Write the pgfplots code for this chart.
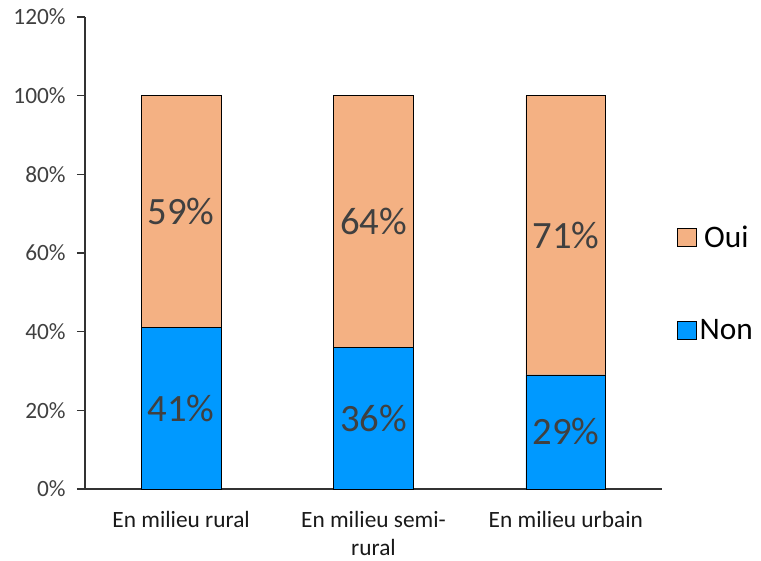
\documentclass[border=0pt]{standalone}
\usepackage{pgfplots}
\pgfplotsset{compat=1.18}
\usepackage{pgfplotstable}
\usepackage{fontspec}
\setmainfont{Carlito}

\definecolor{ouiC}{HTML}{F4B183}
\definecolor{nonC}{HTML}{0099FF}
\definecolor{txtC}{HTML}{404040}

\pgfplotstableread{
x non oui
0 41 59
1 36 64
2 29 71
}\milieu

\begin{document}
\begin{tikzpicture}
\begin{axis}[
  name=ax,
  scale only axis,
  width=432.75pt, height=354pt,
  ybar stacked,
  bar width=0.415,
  xmin=-0.5, xmax=2.5,
  ymin=0, ymax=120,
  axis lines*=left,
  axis line style={black!80, line width=0.8pt},
  tick align=outside,
  ytick={0,20,...,120},
  yticklabels={0\%,20\%,40\%,60\%,80\%,100\%,120\%},
  major tick length=6pt,
  minor tick length=8pt,
  every tick/.style={black!80, line width=0.8pt},
  xtick={0,1,2},
  xticklabels={En milieu rural, En milieu semi-\\rural, En milieu urbain},
  minor xtick={-0.5,0.5,1.5,2.5},
  x tick style={draw=none},
  x tick label style={align=center, font=\fontsize{17.5}{21.5}\selectfont, text=black!90, yshift=-7pt},
  y tick label style={font=\fontsize{17.5}{21}\selectfont, text=txtC, xshift=-5pt},
  /pgf/number format/assume math mode=true,
  nodes near coords={\pgfmathprintnumber[fixed,precision=0]{\rawy}\%},
  every node near coord/.append style={
    anchor=center, text=txtC,
    font=\fontsize{29}{34}\selectfont},
  reverse legend,
  legend style={at={(1,0.435)}, anchor=west, xshift=8pt,
    draw=none, fill=none, row sep=49pt,
    font=\fontsize{23.5}{28}\selectfont,
    /tikz/every even column/.append style={column sep=2pt}},
  legend image code/.code={\draw[#1, draw=black, line width=0.6pt] (0pt,-6.5pt) rectangle (14.5pt,7pt);},
]
\addplot[fill=nonC, draw=black, line width=0.6pt,
  visualization depends on={\thisrow{non} \as \rawy}]
  table[x=x, y=non]{\milieu};
\addlegendentry{Non}
\addplot[fill=ouiC, draw=black, line width=0.6pt,
  visualization depends on={\thisrow{oui} \as \rawy}]
  table[x=x, y=oui]{\milieu};
\addlegendentry{Oui}
\end{axis}
\pgfresetboundingbox
\path ([xshift=-63.75pt, yshift=-53.25pt]ax.south west) rectangle ([xshift=74.25pt, yshift=12.75pt]ax.north east);
\end{tikzpicture}
\end{document}
